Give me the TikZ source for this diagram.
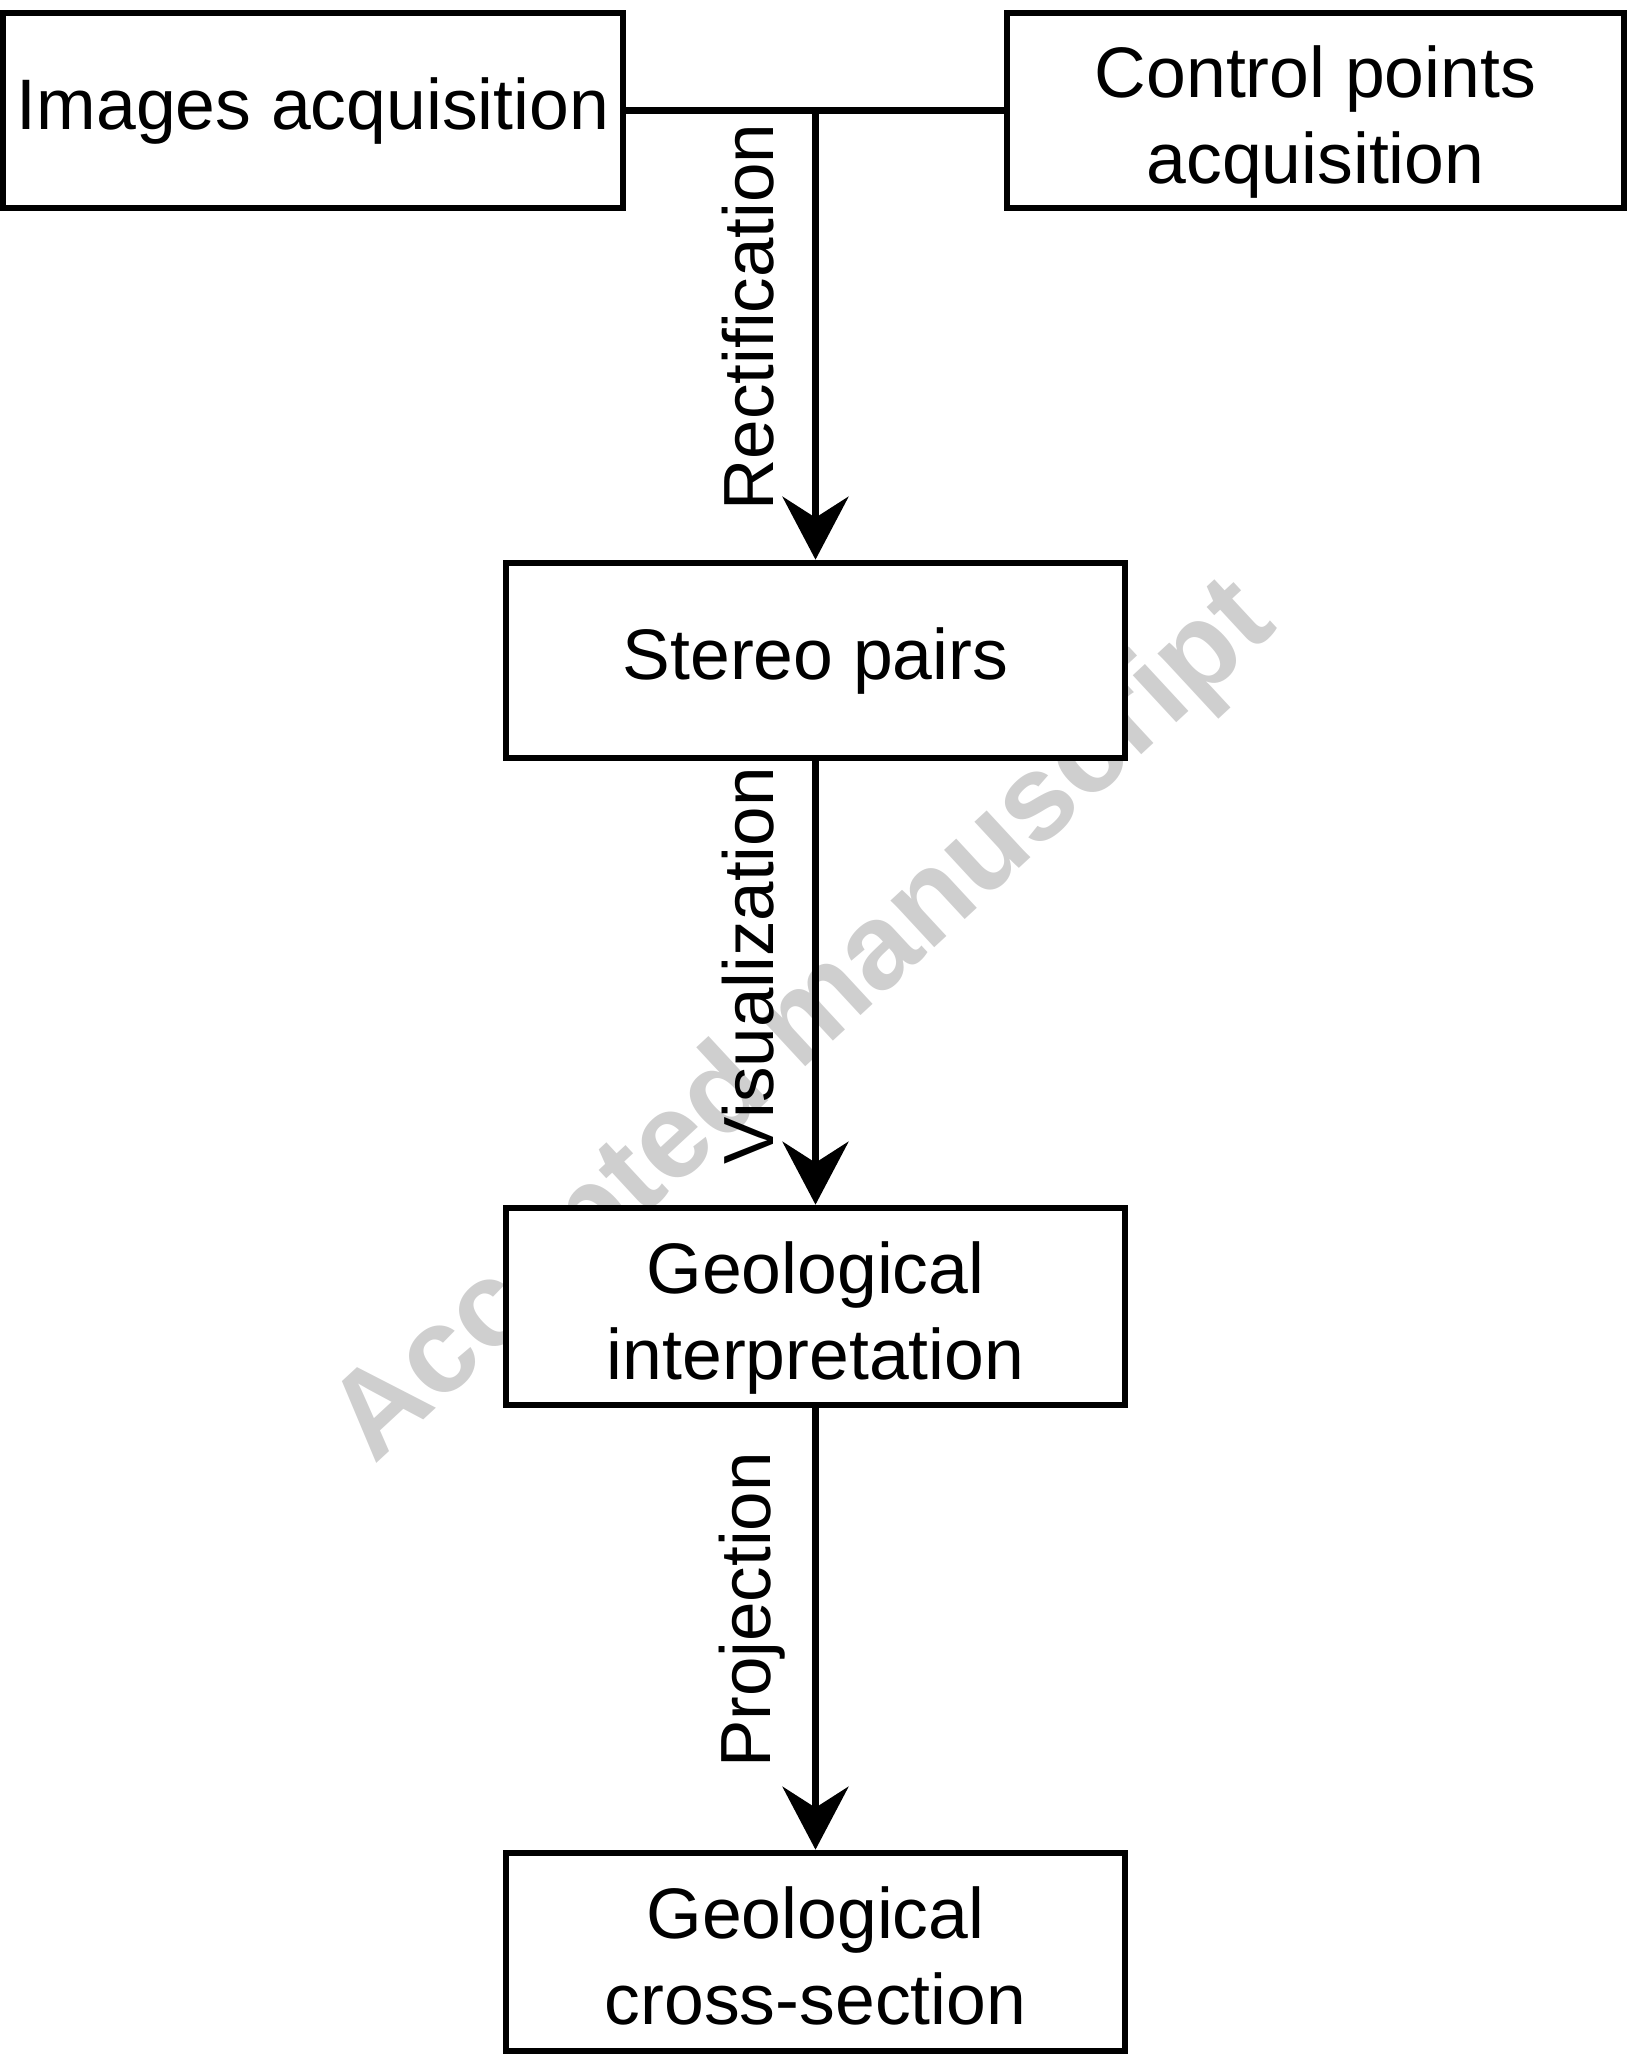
\documentclass[tikz,border=0pt]{standalone}
\usepackage{xcolor}
\usepackage{fontspec}
\setmainfont{Liberation Sans}
\usetikzlibrary{arrows.meta}

\begin{document}
\begin{tikzpicture}[
    box/.style={draw, line width=1.9pt, fill=white, inner sep=0pt, minimum height=1.95cm, align=center, font=\fontsize{20.35}{24.5}\selectfont},
    twoline/.style={text height=41.4pt, text depth=0pt},
    arr/.style={line width=1.8pt, -{Stealth[length=6.3mm, width=6.6mm, inset=2.1mm]}},
    lbl/.style={rotate=90, anchor=base, inner sep=0pt, font=\fontsize{20.2}{24}\selectfont}
]
    % Here I fix the page size
    \useasboundingbox (0,0) rectangle (16.27,-20.54);

    % the grey stamp goes first, boxes cover it
    \node[rotate=42.8, anchor=base, inner sep=0pt, text=black!19, font=\fontsize{34.5}{40}\selectfont\bfseries] (stamp) at (8.27,-10.47) {Accepted manuscript};

    % using node for the boxes
    \node[box, minimum width=6.2cm] (imgacq) at (3.13,-1.105) {Images acquisition};
    \node[box, twoline, minimum width=6.17cm] (ctrlacq) at (13.155,-1.105) {Control points\\acquisition};
    \node[box, minimum width=6.19cm] (stereo) at (8.155,-6.605) {Stereo pairs};
    \node[box, twoline, minimum width=6.19cm, minimum height=1.97cm] (geoint) at (8.155,-13.065) {Geological\\interpretation};
    \node[box, twoline, minimum width=6.19cm, minimum height=1.98cm] (geosec) at (8.155,-19.52) {Geological\\cross-section};

    % Here is the joining line and the arrows
    \coordinate (junc) at (stereo.north |- imgacq.east);
    \draw[line width=1.8pt] (imgacq.east) -- (ctrlacq.west);
    \draw[arr] (junc) -- (stereo);
    \draw[arr] (stereo) -- (geoint);
    \draw[arr] (geoint) -- (geosec);

    % text along the arrows
    \node[lbl] (rectlbl) at (7.73,-3.17) {Rectification};
    \node[lbl] (vislbl) at (7.73,-9.66) {Visualization};
    \node[lbl] (projlbl) at (7.70,-16.10) {Projection};
\end{tikzpicture}
\end{document}
